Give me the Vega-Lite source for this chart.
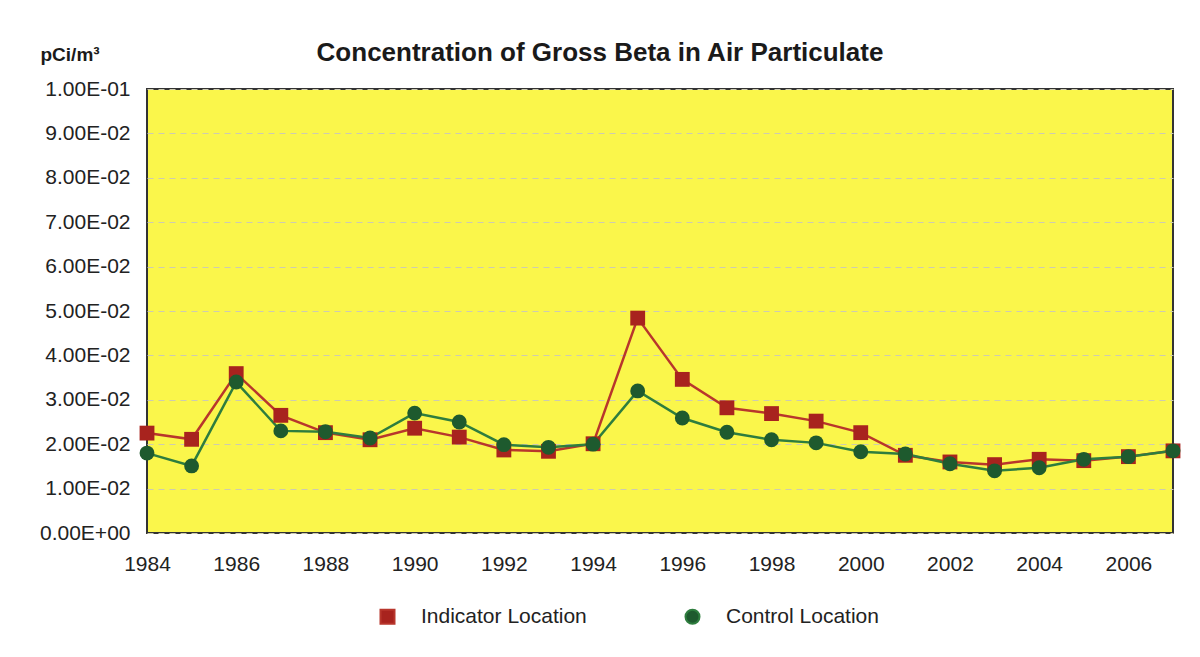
{
  "$schema": "https://vega.github.io/schema/vega-lite/v6.json",
  "autosize": "none",
  "width": 1026,
  "height": 444,
  "padding": {"left": 147, "top": 89, "right": 27, "bottom": 124},
  "background": "white",
  "config": {
    "font": "Liberation Sans",
    "view": {"fill": "#FAF64B", "stroke": "#333333", "strokeWidth": 2},
    "axis": {"labelFont": "Liberation Sans", "labelColor": "#222222", "labelFontSize": 21, "domain": false, "ticks": false}
  },
  "title": {
    "text": "Concentration of Gross Beta in Air Particulate",
    "font": "Liberation Sans",
    "fontSize": 26,
    "fontWeight": "bold",
    "color": "#1a1a1a",
    "anchor": "middle",
    "dx": -60,
    "offset": 27,
    "dy": 48
  },
  "data": {
    "values": [
      {"year": 1984, "series": "Indicator Location", "value": 0.0225},
      {"year": 1985, "series": "Indicator Location", "value": 0.0211},
      {"year": 1986, "series": "Indicator Location", "value": 0.0359},
      {"year": 1987, "series": "Indicator Location", "value": 0.0265},
      {"year": 1988, "series": "Indicator Location", "value": 0.0226},
      {"year": 1989, "series": "Indicator Location", "value": 0.0210},
      {"year": 1990, "series": "Indicator Location", "value": 0.0236},
      {"year": 1991, "series": "Indicator Location", "value": 0.0216},
      {"year": 1992, "series": "Indicator Location", "value": 0.0187},
      {"year": 1993, "series": "Indicator Location", "value": 0.0184},
      {"year": 1994, "series": "Indicator Location", "value": 0.0201},
      {"year": 1995, "series": "Indicator Location", "value": 0.0484},
      {"year": 1996, "series": "Indicator Location", "value": 0.0346},
      {"year": 1997, "series": "Indicator Location", "value": 0.0282},
      {"year": 1998, "series": "Indicator Location", "value": 0.0269},
      {"year": 1999, "series": "Indicator Location", "value": 0.0252},
      {"year": 2000, "series": "Indicator Location", "value": 0.0226},
      {"year": 2001, "series": "Indicator Location", "value": 0.0175},
      {"year": 2002, "series": "Indicator Location", "value": 0.0160},
      {"year": 2003, "series": "Indicator Location", "value": 0.0154},
      {"year": 2004, "series": "Indicator Location", "value": 0.0166},
      {"year": 2005, "series": "Indicator Location", "value": 0.0163},
      {"year": 2006, "series": "Indicator Location", "value": 0.0172},
      {"year": 2007, "series": "Indicator Location", "value": 0.0185},
      {"year": 1984, "series": "Control Location", "value": 0.0180},
      {"year": 1985, "series": "Control Location", "value": 0.0151},
      {"year": 1986, "series": "Control Location", "value": 0.0340},
      {"year": 1987, "series": "Control Location", "value": 0.0230},
      {"year": 1988, "series": "Control Location", "value": 0.0228},
      {"year": 1989, "series": "Control Location", "value": 0.0214},
      {"year": 1990, "series": "Control Location", "value": 0.0270},
      {"year": 1991, "series": "Control Location", "value": 0.0250},
      {"year": 1992, "series": "Control Location", "value": 0.0199},
      {"year": 1993, "series": "Control Location", "value": 0.0193},
      {"year": 1994, "series": "Control Location", "value": 0.0200},
      {"year": 1995, "series": "Control Location", "value": 0.0320},
      {"year": 1996, "series": "Control Location", "value": 0.0259},
      {"year": 1997, "series": "Control Location", "value": 0.0227},
      {"year": 1998, "series": "Control Location", "value": 0.0210},
      {"year": 1999, "series": "Control Location", "value": 0.0203},
      {"year": 2000, "series": "Control Location", "value": 0.0183},
      {"year": 2001, "series": "Control Location", "value": 0.0178},
      {"year": 2002, "series": "Control Location", "value": 0.0156},
      {"year": 2003, "series": "Control Location", "value": 0.0140},
      {"year": 2004, "series": "Control Location", "value": 0.0147},
      {"year": 2005, "series": "Control Location", "value": 0.0166},
      {"year": 2006, "series": "Control Location", "value": 0.0172},
      {"year": 2007, "series": "Control Location", "value": 0.0185}
    ]
  },
  "encoding": {
    "x": {
      "field": "year", "type": "quantitative",
      "scale": {"domain": [1984, 2007], "nice": false, "zero": false},
      "axis": {"values": [1984, 1986, 1988, 1990, 1992, 1994, 1996, 1998, 2000, 2002, 2004, 2006], "format": "d", "grid": false, "title": null, "labelPadding": 20, "labelFlush": false}
    },
    "y": {
      "field": "value", "type": "quantitative",
      "scale": {"domain": [0, 0.1], "nice": false},
      "axis": {
        "values": [0, 0.01, 0.02, 0.03, 0.04, 0.05, 0.06, 0.07, 0.08, 0.09, 0.1],
        "labelExpr": "datum.value == 0 ? '0.00E+00' : (datum.value > 0.0999 ? '1.00E-01' : format(datum.value * 100, '.2f') + 'E-02')",
        "labelPadding": 17,
        "grid": true,
        "gridColor": "#cdcbb0",
        "gridDash": [6, 5],
        "gridWidth": 1,
        "title": "pCi/m³",
        "titleAngle": 0,
        "titleAlign": "left",
        "titleBaseline": "alphabetic",
        "titleX": -107,
        "titleY": -29,
        "titleFontSize": 19,
        "titleFontWeight": "bold",
        "titleColor": "#1a1a1a",
        "titleFont": "Liberation Sans"
      }
    }
  },
  "layer": [
    {
      "mark": {"type": "line", "strokeWidth": 2.5},
      "encoding": {
        "stroke": {
          "field": "series", "type": "nominal",
          "scale": {"domain": ["Indicator Location", "Control Location"], "range": ["#B8362C", "#2E7D3E"]},
          "legend": {
            "orient": "none",
            "legendX": 230,
            "legendY": 517,
            "direction": "horizontal",
            "title": null,
            "labelFontSize": 21,
            "labelColor": "#222222",
            "labelFont": "Liberation Sans",
            "labelOffset": 23,
            "labelLimit": 400,
            "columnPadding": 94,
            "symbolSize": 196,
            "symbolStrokeWidth": 2,
            "encode": {
              "symbols": {
                "update": {
                  "shape": {"signal": "datum.value === 'Indicator Location' ? 'M-4,0H4M-1,-1H1V1H-1Z' : 'M-4,0H4M0.95,0A0.95,0.95 0 1 1 -0.95,0A0.95,0.95 0 1 1 0.95,0Z'"},
                  "stroke": {"signal": "datum.value === 'Indicator Location' ? '#B8362C' : '#2E7D3E'"},
                  "strokeWidth": {"value": 2},
                  "opacity": {"value": 1}
                }
              }
            }
          }
        },
        "detail": {"field": "series"}
      }
    },
    {
      "mark": {"type": "point", "filled": true, "opacity": 1, "size": 220},
      "encoding": {
        "fill": {
          "field": "series", "type": "nominal",
          "scale": {"domain": ["Indicator Location", "Control Location"], "range": ["#A8231E", "#1E5A2E"]},
          "legend": {
            "orient": "none",
            "legendX": 230,
            "legendY": 517,
            "direction": "horizontal",
            "title": null,
            "labelFontSize": 21,
            "labelColor": "#222222",
            "labelFont": "Liberation Sans",
            "labelOffset": 23,
            "labelLimit": 400,
            "columnPadding": 94,
            "symbolSize": 196,
            "symbolStrokeWidth": 2,
            "encode": {
              "symbols": {
                "update": {
                  "shape": {"signal": "datum.value === 'Indicator Location' ? 'M-4,0H4M-1,-1H1V1H-1Z' : 'M-4,0H4M0.95,0A0.95,0.95 0 1 1 -0.95,0A0.95,0.95 0 1 1 0.95,0Z'"},
                  "stroke": {"signal": "datum.value === 'Indicator Location' ? '#B8362C' : '#2E7D3E'"},
                  "strokeWidth": {"value": 2},
                  "opacity": {"value": 1}
                }
              }
            }
          }
        },
        "shape": {
          "field": "series", "type": "nominal",
          "scale": {"domain": ["Indicator Location", "Control Location"], "range": ["square", "circle"]}
        }
      }
    }
  ]
}
